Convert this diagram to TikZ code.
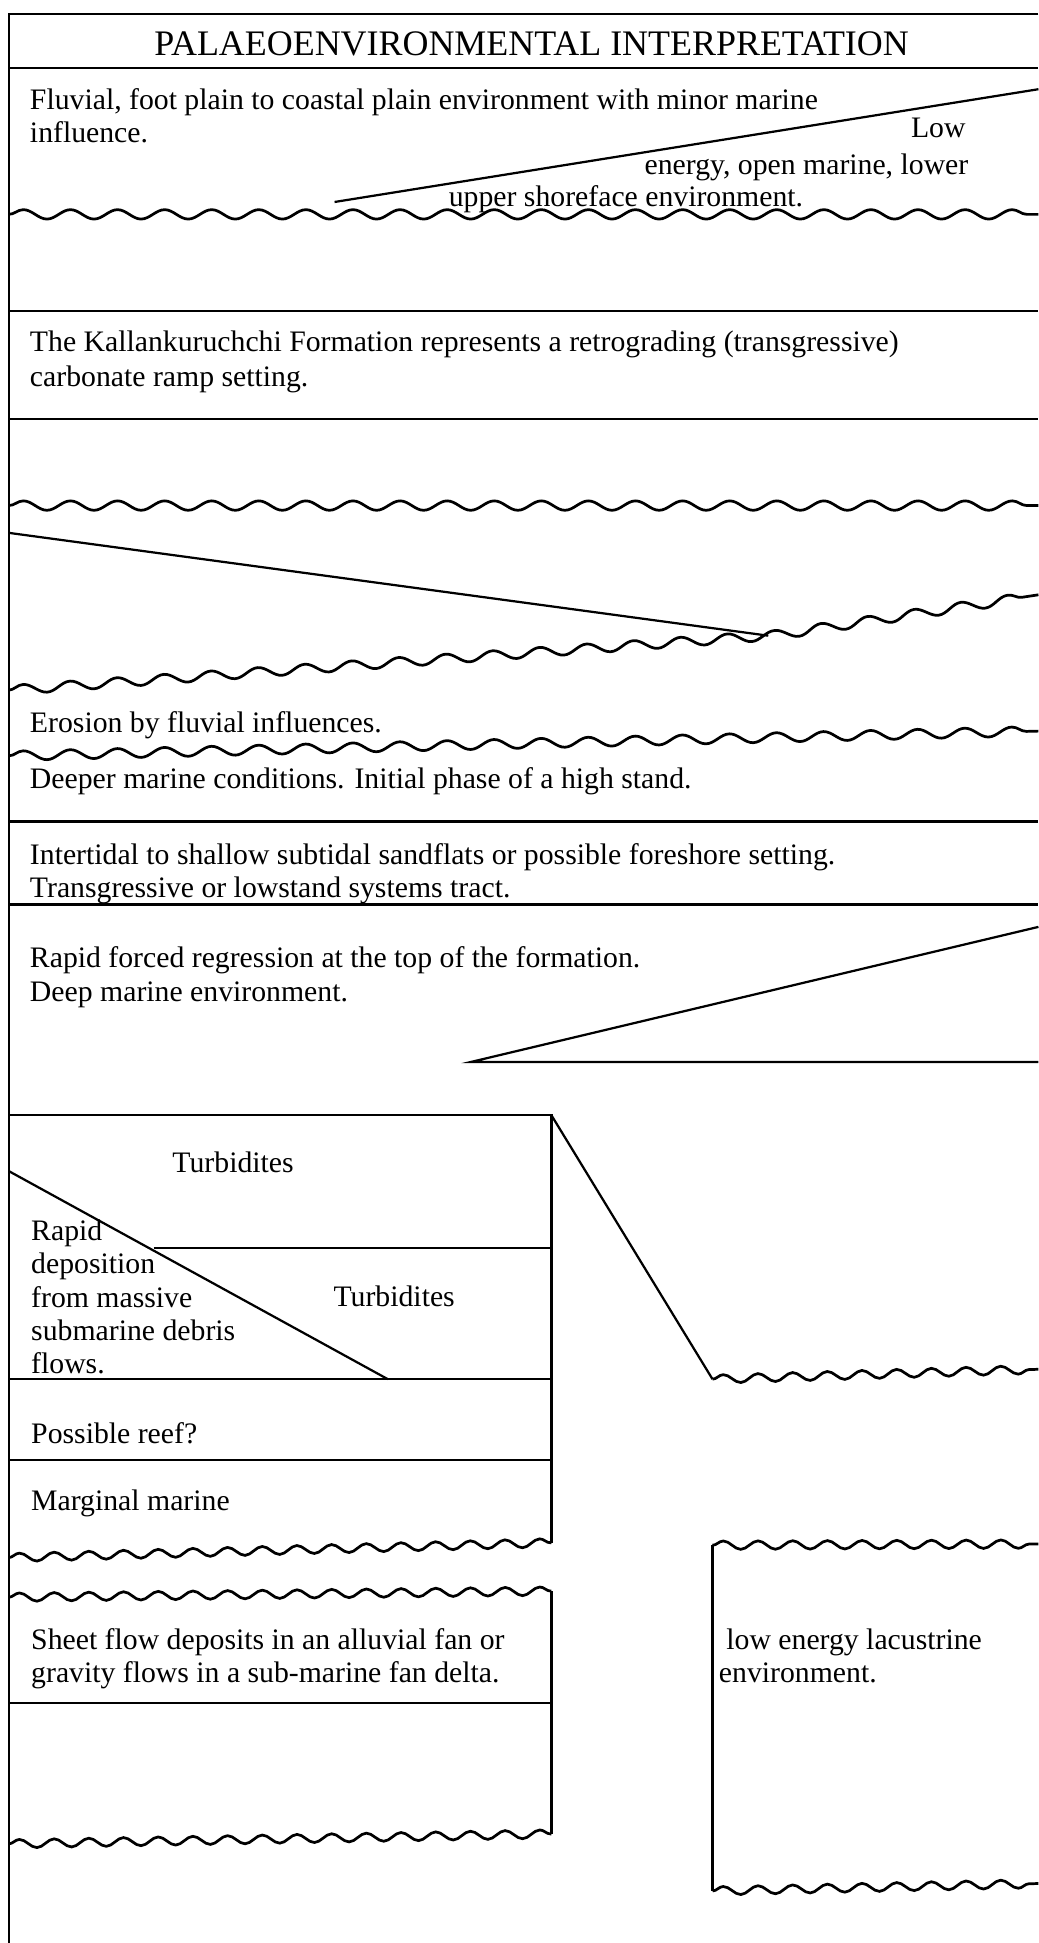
\documentclass[tikz,border=0pt]{standalone}
\usepackage{fontspec}
\setmainfont{Liberation Serif}
\usetikzlibrary{decorations.pathmorphing}
\begin{document}
\begin{tikzpicture}[x=1pt,y=-1pt,
  txt/.style={anchor=base west, inner sep=0pt, font=\fontsize{24}{27}\selectfont, yshift=-3pt},
  ttl/.style={anchor=base, inner sep=0pt, font=\fontsize{29}{32}\selectfont},
  rule/.style={line width=1.8pt},
  wavybig/.style={line width=2.2pt, decorate, decoration={snake, segment length=38pt, amplitude=3.8pt}},
  wavysmall/.style={line width=2.2pt, decorate, decoration={snake, segment length=28pt, amplitude=3.4pt}}]
\useasboundingbox (0,0) rectangle (838,1568);

% frame
\coordinate (tl) at (7,11);
\coordinate (tr) at (838,11);
\coordinate (bl) at (7,1568);
\draw[rule] (tr) -- (tl) -- (bl);

% title
\node[ttl] (title) at (429,45) {PALAEOENVIRONMENTAL INTERPRETATION};
\draw[rule] (7,55) coordinate (t1) -- (838,55) coordinate (t2);

% section 1
\node[txt] (f1) at (24,85) {Fluvial, foot plain to coastal plain environment with minor marine};
\node[txt] (f2) at (24,112) {influence.};
\node[txt] (lo1) at (735,108) {Low};
\node[txt] (lo2) at (520,138) {energy, open marine, lower};
\node[txt] (lo3) at (362,164) {upper shoreface environment.};
\draw[rule] (270,163) coordinate (d1a) -- (838,72) coordinate (d1b);
\draw[wavybig] (7,173) coordinate (w1a) -- (838,173) coordinate (w1b);

% section 2
\draw[rule] (7,251) coordinate (h2a) -- (838,251) coordinate (h2b);
\node[txt] (k1) at (24,281) {The Kallankuruchchi Formation represents a retrograding (transgressive)};
\node[txt] (k2) at (24,309) {carbonate ramp setting.};
\draw[rule] (7,338) coordinate (h3a) -- (838,338) coordinate (h3b);

% section 3
\draw[wavybig] (7,408) coordinate (w2a) -- (838,408) coordinate (w2b);
\draw[rule] (7,430) coordinate (d2a) -- (620,513) coordinate (d2b);
\draw[wavybig] (7,557) coordinate (w3a) -- (d2b) -- (838,480) coordinate (w3b);
\node[txt] (er) at (24,588) {Erosion by fluvial influences.};
\draw[wavybig] (7,610) coordinate (w4a) -- (838,590) coordinate (w4b);
\node[txt] (dm) at (24,633) {Deeper marine conditions. Initial phase of a high stand.};
\draw[rule] (7,663) coordinate (h4a) -- (838,663) coordinate (h4b);
\node[txt] (it1) at (24,695) {Intertidal to shallow subtidal sandflats or possible foreshore setting.};
\node[txt] (it2) at (24,721) {Transgressive or lowstand systems tract.};
\draw[rule] (7,730) coordinate (h5a) -- (838,730) coordinate (h5b);
\node[txt] (rf1) at (24,778) {Rapid forced regression at the top of the formation.};
\node[txt] (rf2) at (24,805) {Deep marine environment.};
\draw[rule] (838,748) coordinate (tra) -- (380,857) coordinate (trb) -- (838,857) coordinate (trc);

% lower left box 1
\coordinate (b1tl) at (7,900);
\coordinate (b1tr) at (445,900);
\draw[rule] (b1tl) -- (b1tr) -- (445,1245) coordinate (b1br);
\draw[rule] (b1tr) -- (575,1113) coordinate (wg);
\draw[wavysmall] (wg) -- (838,1105) coordinate (wgr);
\node[txt] (tu1) at (139,943) {Turbidites};
\draw[rule] (7,945) coordinate (d3a) -- (313,1113) coordinate (d3b);
\draw[rule] (124,1007) coordinate (h6a) -- (445,1007) coordinate (h6b);
\node[txt] (ra1) at (25,998) {Rapid};
\node[txt] (ra2) at (25,1025) {deposition};
\node[txt] (ra3) at (25,1052) {from massive};
\node[txt] (ra4) at (25,1079) {submarine debris};
\node[txt] (ra5) at (25,1105) {flows.};
\node[txt] (tu2) at (269,1051) {Turbidites};
\draw[rule] (7,1113) coordinate (h7a) -- (445,1113) coordinate (h7b);
\node[txt] (pr) at (25,1162) {Possible reef?};
\draw[rule] (7,1178) coordinate (h8a) -- (445,1178) coordinate (h8b);
\node[txt] (mm) at (25,1216) {Marginal marine};
\draw[wavysmall] (7,1257) coordinate (w5a) -- (b1br);

% lower left box 2
\draw[wavysmall] (7,1289) coordinate (w6a) -- (445,1284) coordinate (b2tr);
\draw[rule] (b2tr) -- (445,1480) coordinate (b2br);
\node[txt] (sf1) at (25,1328) {Sheet flow deposits in an alluvial fan or};
\node[txt] (sf2) at (25,1355) {gravity flows in a sub-marine fan delta.};
\draw[rule] (7,1374) coordinate (h9a) -- (445,1374) coordinate (h9b);
\draw[wavysmall] (7,1488) coordinate (w7a) -- (b2br);

% right box
\coordinate (rbt) at (575,1247);
\coordinate (rbb) at (575,1526);
\draw[wavysmall] (rbt) -- (838,1246);
\draw[rule] (rbt) -- (rbb);
\draw[wavysmall] (rbb) -- (838,1520);
\node[txt] (le1) at (586,1328) {low energy lacustrine};
\node[txt] (le2) at (580,1355) {environment.};
\end{tikzpicture}
\end{document}
